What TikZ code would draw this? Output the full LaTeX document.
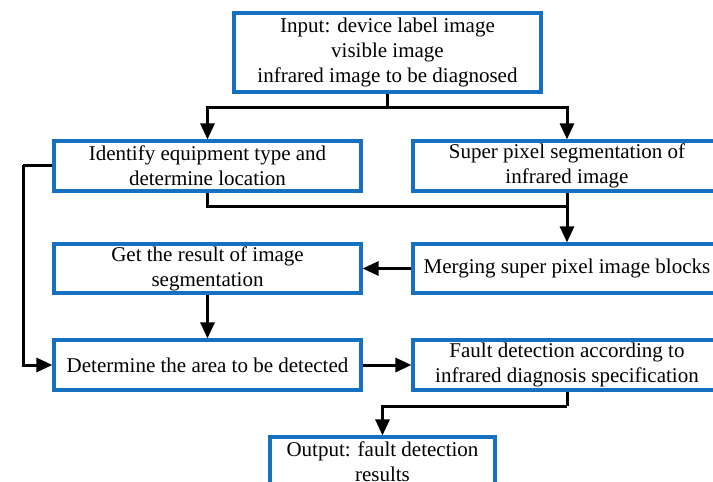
\documentclass[tikz,border=0pt]{standalone}
\usepackage{fontspec}
\setmainfont{Liberation Serif}
\usetikzlibrary{arrows.meta}
\definecolor{boxblue}{RGB}{22,112,192}
\tikzset{
  box/.style={draw=boxblue, line width=3.2pt, fill=white, rectangle, inner sep=0pt,
    align=center, font=\fontsize{21}{25}\selectfont},
  conn/.style={draw=black, line width=3pt},
  arr/.style={conn, -{Triangle[length=16pt,width=14pt]}},
}
\begin{document}
\begin{tikzpicture}[x=1pt,y=-1pt]
\useasboundingbox (0,0) rectangle (713,482);
\clip (0,0) rectangle (713,482);
\fill[white] (0,0) rectangle (713,482);
\node[box, minimum width=307pt, minimum height=79pt] (top) at (387.5,52.5)
  {Input: device label image\\visible image\\infrared image to be diagnosed};
\node[box, minimum width=307pt, minimum height=50pt] (ident) at (207.5,166)
  {Identify equipment type and\\determine location};
\node[box, minimum width=308pt, minimum height=50pt] (super) at (567,166)
  {Super pixel segmentation of\\infrared image};
\node[box, minimum width=307pt, minimum height=49pt] (get) at (207.5,268.5)
  {Get the result of image\\segmentation};
\node[box, minimum width=308pt, minimum height=49pt] (merge) at (567,268.5)
  {Merging super pixel image blocks};
\node[box, minimum width=307pt, minimum height=50pt] (det) at (207.5,365)
  {Determine the area to be detected};
\node[box, minimum width=308pt, minimum height=50pt] (fault) at (567,365)
  {Fault detection according to\\infrared diagnosis specification};
\node[box, minimum width=225pt, minimum height=50pt] (out) at (382.5,462)
  {Output: fault detection\\results};
\coordinate (split) at (387.5,107);
\coordinate (join) at (567,206);
\coordinate (leftrail) at (23,165);
\coordinate (outturn) at (567,406);
\draw[conn] (top.south) -- (split);
\draw[arr] (split) -| (ident.north);
\draw[arr] (split) -| (super.north);
\draw[conn] (ident.south) |- (join);
\draw[arr] (super.south) -- (merge.north);
\draw[arr] (merge.west) -- (get.east);
\draw[arr] (get.south) -- (det.north);
\draw[conn] (ident.west |- leftrail) -- (leftrail);
\draw[arr] (leftrail) |- (det.west);
\draw[arr] (det.east) -- (fault.west);
\draw[conn] (fault.south) -- (outturn);
\draw[arr] (outturn) -| (out.north);
\end{tikzpicture}
\end{document}
